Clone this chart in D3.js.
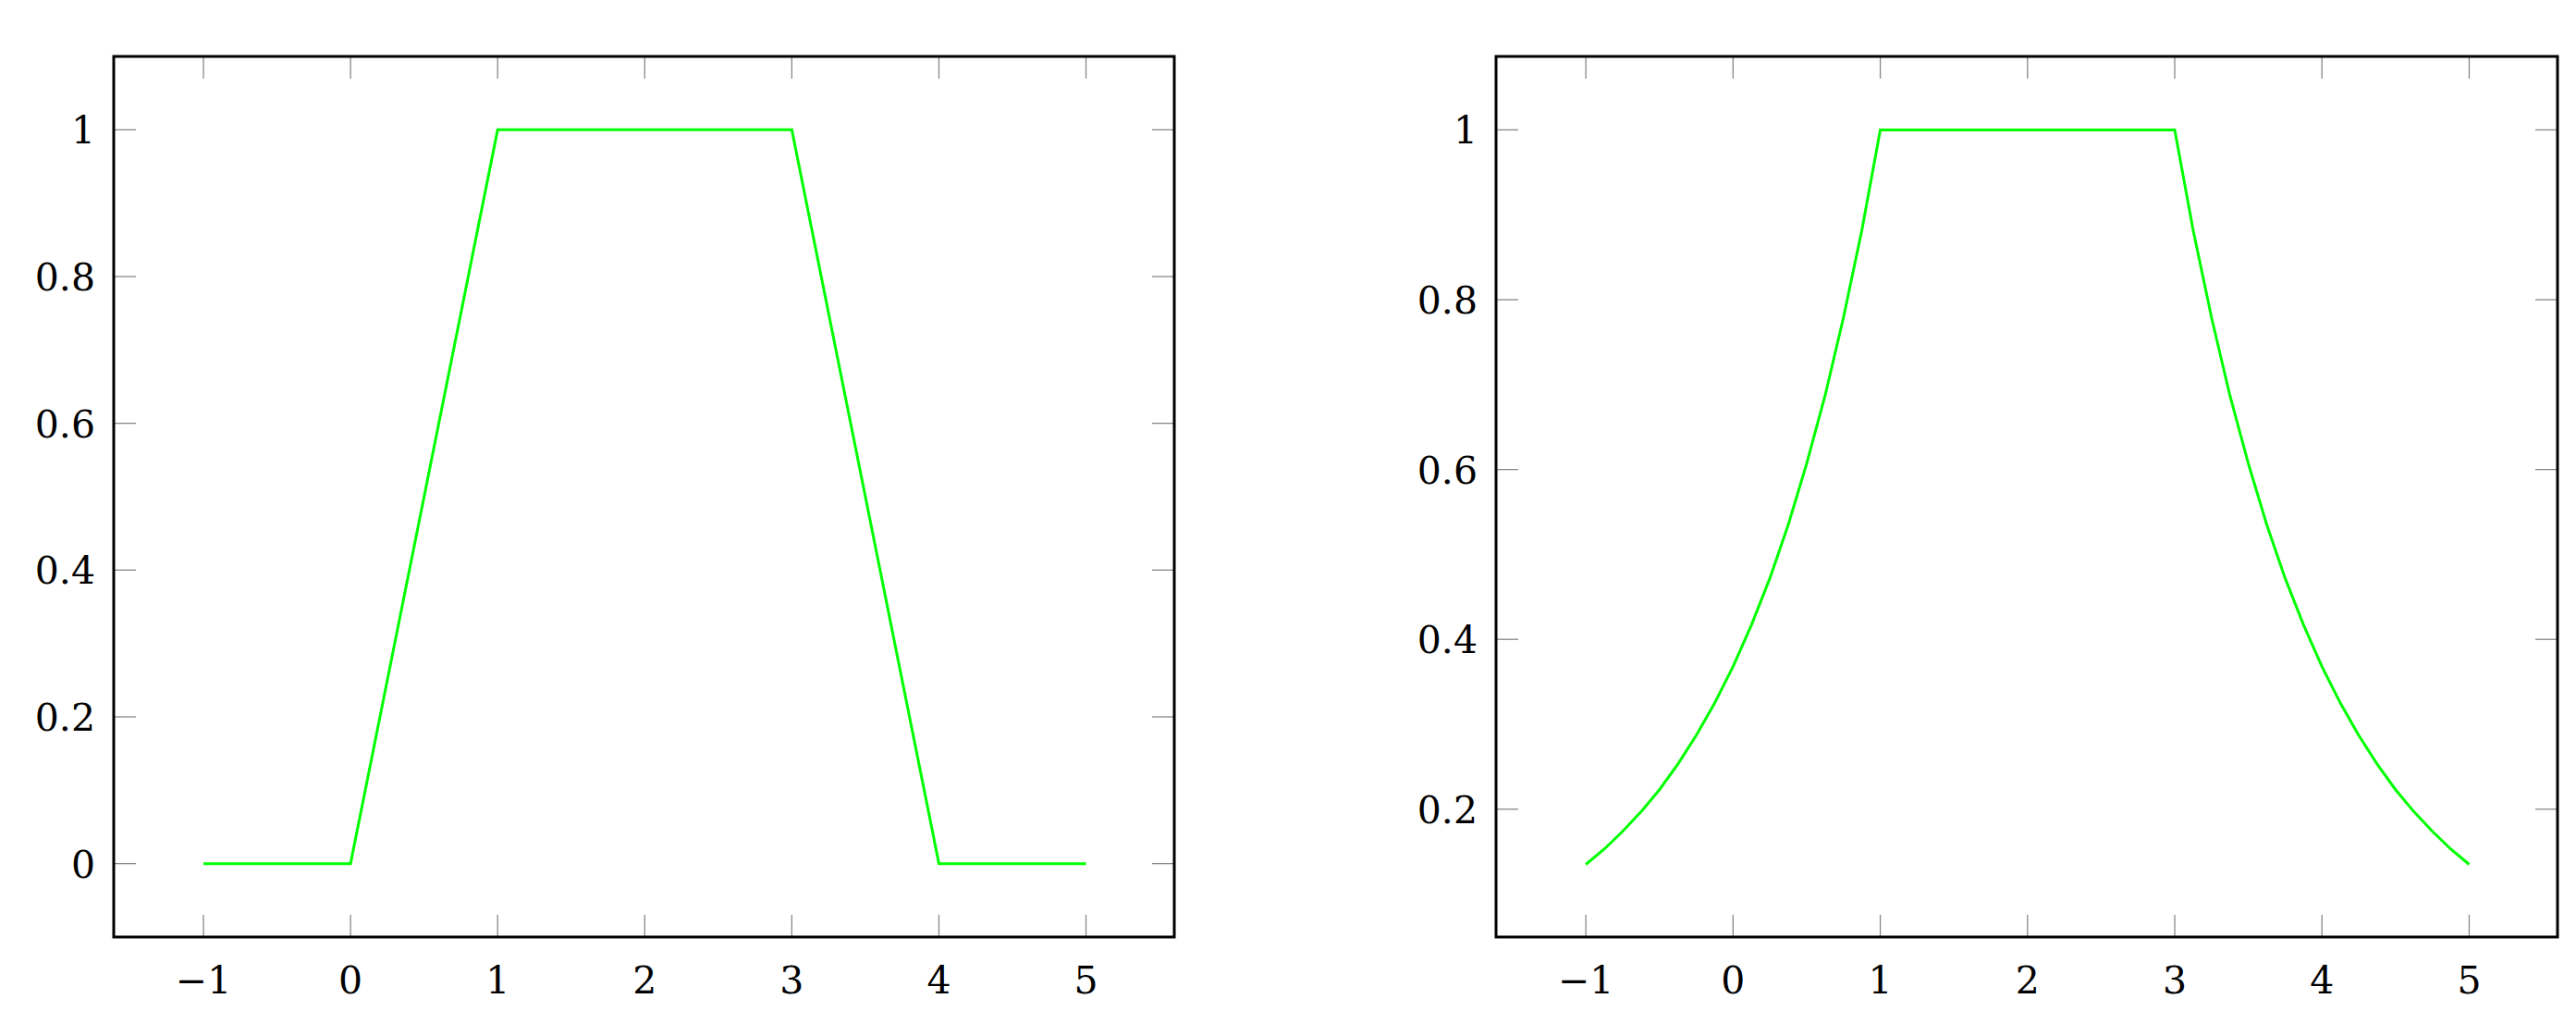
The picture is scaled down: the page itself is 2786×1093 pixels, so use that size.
<!DOCTYPE html>
<html><head><meta charset="utf-8">
<script src="https://cdn.jsdelivr.net/npm/d3@7"></script>
<style>body{margin:0;background:#fff}text{font-family:"DejaVu Serif",serif}</style>
</head><body><svg id="c" width="2786" height="1093"></svg>
<script>
const xTicks=[-1,0,1,2,3,4,5];
const yTicksLeft=[0,0.2,0.4,0.6,0.8,1];
const yTicksRight=[0.2,0.4,0.6,0.8,1];
const xLeft=[-1,0,1,3,4,5];
const yLeft=[0,0,1,1,0,0];
const xRight=[-1,-0.875,-0.75,-0.625,-0.5,-0.375,-0.25,-0.125,0,0.125,0.25,0.375,0.5,0.625,0.75,0.875,1,3,3.125,3.25,3.375,3.5,3.625,3.75,3.875,4,4.125,4.25,4.375,4.5,4.625,4.75,4.875,5];
const yRight=[0.135,0.153,0.174,0.197,0.223,0.253,0.287,0.325,0.368,0.417,0.472,0.535,0.607,0.687,0.779,0.882,1,1,0.882,0.779,0.687,0.607,0.535,0.472,0.417,0.368,0.325,0.287,0.253,0.223,0.197,0.174,0.153,0.135];
const svg=d3.select("#c");
function panel(x0,x1,yDom,yTicks,xs,ys){
  const top=61,bot=1013;
  const x=d3.scaleLinear().domain([-1.61,5.6]).range([x0,x1]);
  const y=d3.scaleLinear().domain(yDom).range([bot,top]);
  const g=svg.append("g");
  const tl=24;
  xTicks.forEach(t=>{
    g.append("line").attr("x1",x(t)).attr("x2",x(t)).attr("y1",bot).attr("y2",bot-tl).attr("stroke","#888").attr("stroke-width",1.3);
    g.append("line").attr("x1",x(t)).attr("x2",x(t)).attr("y1",top).attr("y2",top+tl).attr("stroke","#888").attr("stroke-width",1.3);
    g.append("text").attr("x",x(t)).attr("y",1074).attr("text-anchor","middle").attr("font-size",41).text(t<0?"\u2212"+(-t):t);
  });
  yTicks.forEach(t=>{
    g.append("line").attr("x1",x0).attr("x2",x0+tl).attr("y1",y(t)).attr("y2",y(t)).attr("stroke","#888").attr("stroke-width",1.3);
    g.append("line").attr("x1",x1).attr("x2",x1-tl).attr("y1",y(t)).attr("y2",y(t)).attr("stroke","#888").attr("stroke-width",1.3);
    g.append("text").attr("x",x0-20).attr("y",y(t)+15).attr("text-anchor","end").attr("font-size",41).text(t);
  });
  const pts=xs.map((v,i)=>[v,ys[i]]);
  g.append("path").attr("d",d3.line().x(d=>x(d[0])).y(d=>y(d[1]))(pts)).attr("fill","none").attr("stroke","#00ff00").attr("stroke-width",3);
  g.append("rect").attr("x",x0).attr("y",top).attr("width",x1-x0).attr("height",bot-top).attr("fill","none").attr("stroke","#000").attr("stroke-width",3);
}
panel(123,1270,[-0.1,1.1],yTicksLeft,xLeft,yLeft);
panel(1618,2766,[0.0495,1.0865],yTicksRight,xRight,yRight);
</script></body></html>
